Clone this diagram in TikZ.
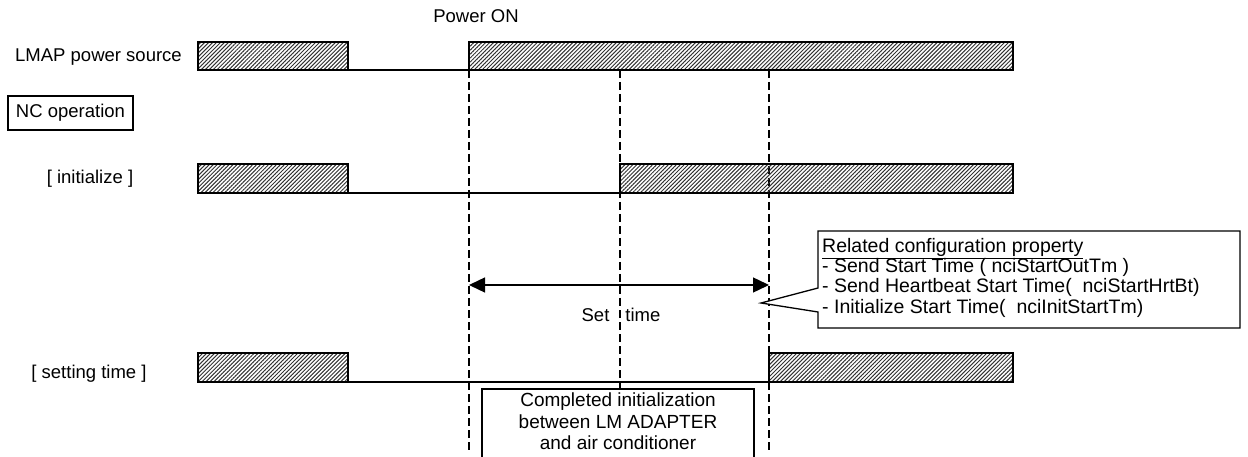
\documentclass[tikz,border=0pt]{standalone}
\usepackage{fontspec}
\setmainfont{Liberation Sans}
\usetikzlibrary{patterns.meta,arrows.meta}
\tikzset{
  hatchbox/.style={draw=black, line width=1.6pt, pattern={Lines[angle=45,distance=2.8pt,line width=1pt]}, pattern color=black!80},
  lowlevel/.style={line width=1.4pt},
  guide/.style={line width=1.3pt, dash pattern=on 8pt off 4pt},
  lbl/.style={font=\fontsize{18.5}{20}\selectfont, inner sep=0pt},
  note/.style={font=\fontsize{19.5}{20.3}\selectfont, inner sep=0pt, align=left},
  settime/.style={line width=1.4pt, {Triangle[length=16pt,width=15pt]}-{Triangle[length=16pt,width=15pt]}},
}

\begin{document}
\begin{tikzpicture}[x=1pt, y=-1pt]
			%%%%% START %%%%%
			\useasboundingbox (0, 0) rectangle (1248, 457);
			
			\node[lbl] (pwron) at (476, 16) {Power ON};
			
			% guides
			\draw[guide] (469, 70) -- (469, 450);
			\draw[guide] (620, 70) -- (620, 389);
			\draw[guide] (769, 70) -- (769, 450);
			
			% LMAP power source
			\node[lbl] (lmap) at (98.5, 57) {LMAP power source};
			\draw[hatchbox] (198, 42) rectangle (348, 70);
			\draw[lowlevel] (348, 70) -- (469, 70);
			\draw[hatchbox] (469, 42) rectangle (1013, 70);
			
			\node[lbl, draw, line width=1.2pt, minimum width=125pt, minimum height=34pt] (ncop) at (70.5, 113) {NC operation};
			
			% initialize
			\node[lbl] (init) at (90, 179) {[ initialize ]};
			\draw[hatchbox] (198, 164) rectangle (348, 193);
			\draw[lowlevel] (348, 193) -- (620, 193);
			\draw[hatchbox] (620, 164) rectangle (1013, 193);
			
			% set time
			\coordinate (ton) at (469, 285);
			\coordinate (tset) at (769, 285);
			\draw[settime] (ton) -- (tset);
			\node[lbl] (setlbl) at (621, 315) {Set\hspace{16pt}time};
			
			\draw[line width=1.3pt, fill=white] (818, 231) -- (1240, 231) -- (1240, 328) -- (818, 328) -- (818, 312) -- (761, 303) -- (818, 288) -- cycle;
			\node[note, anchor=north west] (cfg) at (822, 238) {\underline{Related configuration property}\\- Send Start Time ( nciStartOutTm )\\- Send Heartbeat Start Time(\ \ nciStartHrtBt)\\- Initialize Start Time(\ \ nciInitStartTm)};
			
			% setting time
			\node[lbl] (stime) at (89, 374) {[ setting time ]};
			\draw[hatchbox] (198, 353) rectangle (348, 382);
			\draw[lowlevel] (348, 382) -- (769, 382);
			\draw[hatchbox] (769, 353) rectangle (1013, 382);
			
			\draw[line width=1.3pt, fill=white] (482, 460) |- (754, 389) -- (754, 460);
			\node[note, align=center, anchor=north, font=\fontsize{19}{21.5}\selectfont] (done) at (618, 393) {Completed initialization\\between LM ADAPTER\\and air conditioner};
			
			%%%%% END %%%%%
\end{tikzpicture}
\end{document}
